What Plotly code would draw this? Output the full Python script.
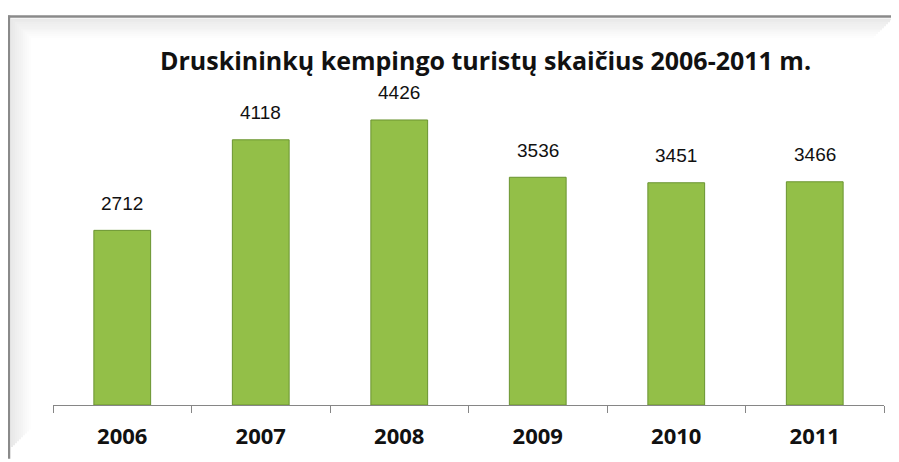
import plotly.graph_objects as go

years = ["2006", "2007", "2008", "2009", "2010", "2011"]
tourists = [2712, 4118, 4426, 3536, 3451, 3466]
title_text = "Druskininkų kempingo turistų skaičius 2006-2011 m."

# page body has 8px default margin -> work in screen px, convert
OFF = 8
SW, SH = 899, 462
W, H = SW - OFF, SH - OFF
# screen-space plot area
SX0, SX1, SYB, SYT = 53, 884, 412, 83
ML = SX0 - OFF
MR = W - (SX1 - OFF)
MT = SYT - OFF
MB = H - (SYB - OFF)
PW = W - ML - MR
PH = H - MT - MB

def px_x(s):
    return (s - OFF - ML) / PW

def px_y(s):
    return (H - MB - (s - OFF)) / PH

fig = go.Figure()
fig.add_trace(go.Bar(
    x=years, y=tourists,
    marker=dict(color="#93bf48", line=dict(color="#6a9430", width=1)),
    width=0.41,
    hoverinfo="x+y",
))

annotations = []
for i, v in enumerate(tourists):
    annotations.append(dict(
        x=i, y=v, xref="x", yref="y", text=str(v), showarrow=False,
        yanchor="middle", yshift=27,
        font=dict(family="Liberation Sans, Arial", size=19, color="#111111"),
    ))

shapes = []
steps = 10
for i in range(steps):
    op = 0.16 * (1 - i / steps)
    shapes.append(dict(type="rect", xref="paper", yref="paper",
                       x0=px_x(11 + i * 2), x1=px_x(13 + i * 2),
                       y0=px_y(455 - i * 2), y1=px_y(17 + i * 2),
                       fillcolor=f"rgba(120,120,120,{op:.3f})", line=dict(width=0), layer="below"))
    shapes.append(dict(type="rect", xref="paper", yref="paper",
                       x0=px_x(13 + i * 2), x1=px_x(892 - i * 2),
                       y0=px_y(17 + i * 2), y1=px_y(19 + i * 2),
                       fillcolor=f"rgba(120,120,120,{op:.3f})", line=dict(width=0), layer="below"))
shapes.append(dict(type="line", xref="paper", yref="paper",
                   x0=px_x(9), x1=px_x(9), y0=px_y(14), y1=px_y(SH + 5),
                   line=dict(color="#8a8a8a", width=2.5)))
shapes.append(dict(type="line", xref="paper", yref="paper",
                   x0=px_x(8), x1=px_x(SW + 5), y0=px_y(15), y1=px_y(15),
                   line=dict(color="#8a8a8a", width=2.5)))

fig.update_layout(
    width=W, height=H,
    margin=dict(l=ML, r=MR, t=MT, b=MB),
    paper_bgcolor="white", plot_bgcolor="white",
    showlegend=False,
    title=dict(text=f"<b>{title_text}</b>", x=px_x(485.5), xref="paper", xanchor="center",
               y=1 - (61 - OFF) / H, yref="container", yanchor="middle",
               font=dict(family="Open Sans", size=25, color="#111111")),
    xaxis=dict(
        type="category", range=[-0.5, len(years) - 0.5], autorange=False,
        showline=True, linecolor="#868686", linewidth=1,
        ticks="outside", ticklen=7, tickcolor="#868686", tickson="boundaries",
        showgrid=False, zeroline=False,
        tickfont=dict(family="Open Sans", size=22, color="#111111", weight="bold"),
        ticklabelstandoff=12,
    ),
    yaxis=dict(range=[0, 5000], autorange=False, visible=False, showgrid=False),
    bargap=0.59,
    annotations=annotations,
    shapes=shapes,
)

fig.write_html("out.html")
